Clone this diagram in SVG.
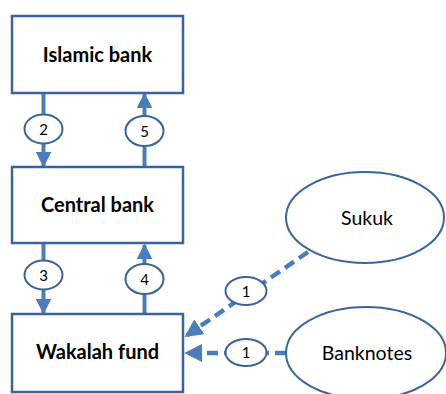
<svg xmlns="http://www.w3.org/2000/svg" width="446" height="394" viewBox="0 0 446 394">
<defs>
<style>
.box{fill:#fff;stroke:#3A659A;stroke-width:2.5}
.ell{fill:#fff;stroke:#3A659A;stroke-width:2}
.lbl{font-family:Lato,"Liberation Sans",sans-serif;font-weight:bold;font-size:20px;fill:#000;text-anchor:middle}
.elbl{font-family:Lato,"Liberation Sans",sans-serif;font-size:19.5px;fill:#000;text-anchor:middle}
.num{font-family:Lato,"Liberation Sans",sans-serif;font-size:15px;fill:#000;text-anchor:middle}
.ln{stroke:#4A7EBB;stroke-width:4;fill:none}
.dash{stroke:#4A7EBB;stroke-width:4.5;fill:none;stroke-dasharray:11 6}
</style>
<marker id="ah" markerWidth="4" markerHeight="4" viewBox="0 0 4 4" refX="3.6" refY="2" orient="auto" markerUnits="strokeWidth">
<path d="M0,0 L4,2 L0,4 Z" fill="#4A7EBB"/>
</marker>
</defs>
<g id="connectors">
<line class="ln" x1="43.5" y1="94" x2="43.5" y2="166" marker-end="url(#ah)"/>
<line class="ln" x1="144.5" y1="167" x2="144.5" y2="94" marker-end="url(#ah)"/>
<line class="ln" x1="43.5" y1="244" x2="43.5" y2="313" marker-end="url(#ah)"/>
<line class="ln" x1="144.5" y1="314" x2="144.5" y2="245" marker-end="url(#ah)"/>
<line class="dash" x1="308" y1="252" x2="186" y2="336" marker-end="url(#ah)"/>
<line class="dash" x1="286" y1="353" x2="186" y2="353" marker-end="url(#ah)"/>
<g id="lbl2"><ellipse class="ell" cx="43.5" cy="129" rx="19" ry="14.5"/><text class="num" x="43.5" y="134.5">2</text></g>
<g id="lbl5"><ellipse class="ell" cx="144.5" cy="131" rx="19" ry="15"/><text class="num" x="144.5" y="136.5">5</text></g>
<g id="lbl3"><ellipse class="ell" cx="43.5" cy="275" rx="19" ry="14.5"/><text class="num" x="43.5" y="280.5">3</text></g>
<g id="lbl4"><ellipse class="ell" cx="144.5" cy="279" rx="19" ry="15"/><text class="num" x="144.5" y="284.5">4</text></g>
<g id="lbl1a"><ellipse class="ell" cx="246" cy="291" rx="20.5" ry="14"/><text class="num" x="246" y="296.5">1</text></g>
<g id="lbl1b"><ellipse class="ell" cx="246" cy="352.5" rx="20.5" ry="13.5"/><text class="num" x="246" y="358">1</text></g>
</g>
<g id="islamic"><rect class="box" x="12" y="16" width="171" height="77"/><text class="lbl" x="97.5" y="62">Islamic bank</text></g>
<g id="central"><rect class="box" x="12" y="167" width="171" height="76"/><text class="lbl" x="97.5" y="212">Central bank</text></g>
<g id="wakalah"><rect class="box" x="12" y="314" width="171" height="78"/><text class="lbl" x="97.5" y="359">Wakalah fund</text></g>
<g id="sukuk"><ellipse class="ell" cx="365" cy="217.5" rx="79" ry="45.5"/><text class="elbl" x="367" y="225">Sukuk</text></g>
<g id="banknotes"><ellipse class="ell" cx="366" cy="353" rx="80" ry="46"/><text class="elbl" x="367" y="359.5">Banknotes</text></g>
</svg>
